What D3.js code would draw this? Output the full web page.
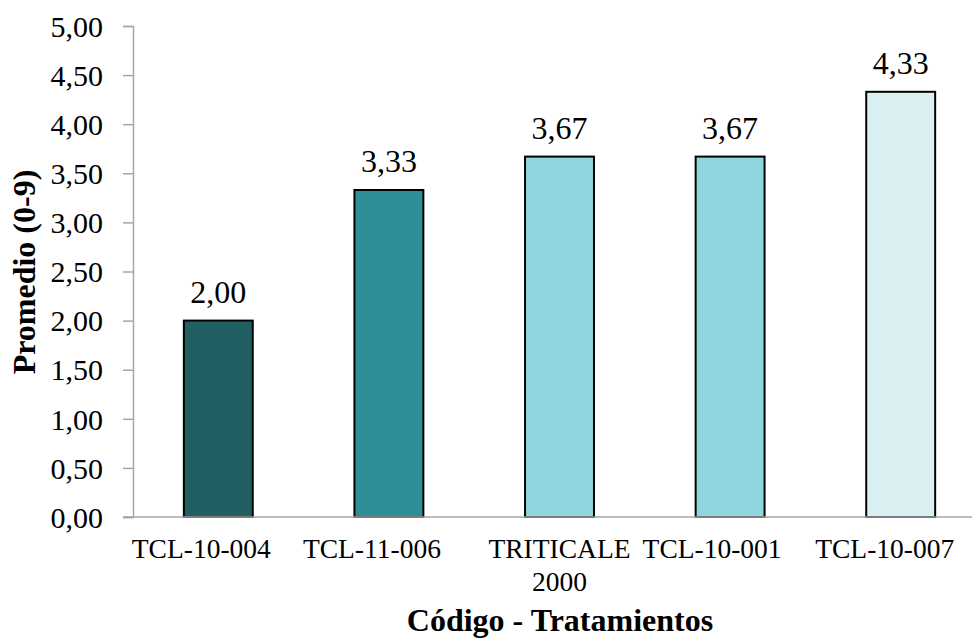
<!DOCTYPE html>
<html>
<head>
<meta charset="utf-8">
<script src="https://cdn.jsdelivr.net/npm/d3@7"></script>
<style>
  html, body { margin: 0; padding: 0; background: #fff; }
  svg { display: block; }
  text { font-family: "Liberation Serif", "Times New Roman", serif; fill: #000; }
</style>
</head>
<body>
<svg id="chart" width="972" height="641"></svg>
<script>
// Treatment codes (label lines) and mean scores
const categories = ["TCL-10-004", "TCL-11-006", "TRITICALE 2000", "TCL-10-001", "TCL-10-007"];
const categoryLines = [["TCL-10-004"], ["TCL-11-006"], ["TRITICALE", "2000"], ["TCL-10-001"], ["TCL-10-007"]];
const values = [2.00, 3.33, 3.67, 3.67, 4.33];
const yTicks = [0, 0.5, 1, 1.5, 2, 2.5, 3, 3.5, 4, 4.5, 5];

// Presentation
const barColors = ["#215f63", "#2e8f98", "#8fd7de", "#8fd7de", "#daf0f3"];
const labelShift = [-17, -17, 0, -18, -16];

const svg = d3.select("#chart");
const plotLeft = 133, plotRight = 986, plotTop = 26, plotBottom = 517;

const x = d3.scaleBand()
  .domain(categories)
  .range([plotLeft, plotRight])
  .paddingInner(0.596)
  .paddingOuter(0.298);

const y = d3.scaleLinear().domain([0, 5]).range([plotBottom, plotTop]);

const fmt = v => d3.format(".2f")(v).replace(".", ",");

// Y axis
const yAxis = svg.append("g")
  .attr("transform", `translate(${plotLeft},0)`)
  .call(d3.axisLeft(y).tickValues(yTicks).tickSize(10).tickPadding(20).tickFormat(fmt));
yAxis.select(".domain").attr("stroke", "#a6a6a6").attr("stroke-width", 1.5);
yAxis.selectAll(".tick line").attr("stroke", "#a6a6a6").attr("stroke-width", 1.5);
yAxis.selectAll(".tick text")
  .attr("font-family", "Liberation Serif, Times New Roman, serif")
  .attr("font-size", 30).attr("fill", "#000").attr("dy", "0.34em");

// Bars
svg.append("g").selectAll("rect")
  .data(values)
  .join("rect")
  .attr("x", (d, i) => x(categories[i]))
  .attr("y", d => y(d))
  .attr("width", x.bandwidth())
  .attr("height", d => y(0) - y(d))
  .attr("fill", (d, i) => barColors[i])
  .attr("stroke", "#000")
  .attr("stroke-width", 2);

// Baseline
svg.append("line")
  .attr("x1", plotLeft - 10).attr("x2", plotRight)
  .attr("y1", y(0)).attr("y2", y(0))
  .attr("stroke", "#a6a6a6").attr("stroke-width", 1.5);

// Value labels
svg.append("g").selectAll("text")
  .data(values)
  .join("text")
  .attr("x", (d, i) => x(categories[i]) + x.bandwidth() / 2)
  .attr("y", d => y(d) - 18)
  .attr("text-anchor", "middle")
  .attr("font-size", 32)
  .text(d => fmt(d));

// Category labels
const catG = svg.append("g");
categoryLines.forEach((lines, i) => {
  const cx = x(categories[i]) + x.bandwidth() / 2 + labelShift[i];
  const t = catG.append("text")
    .attr("x", cx)
    .attr("y", 558)
    .attr("text-anchor", "middle")
    .attr("font-size", 27.5);
  lines.forEach((ln, j) => {
    t.append("tspan")
      .attr("x", cx)
      .attr("dy", j === 0 ? 0 : 33)
      .text(ln);
  });
});

// Axis titles
svg.append("text")
  .attr("x", 560).attr("y", 631)
  .attr("text-anchor", "middle")
  .attr("font-size", 32).attr("font-weight", "bold")
  .text("Código - Tratamientos");

svg.append("text")
  .attr("transform", `translate(35,272) rotate(-90)`)
  .attr("text-anchor", "middle")
  .attr("font-size", 32).attr("font-weight", "bold")
  .text("Promedio (0-9)");
</script>
</body>
</html>
